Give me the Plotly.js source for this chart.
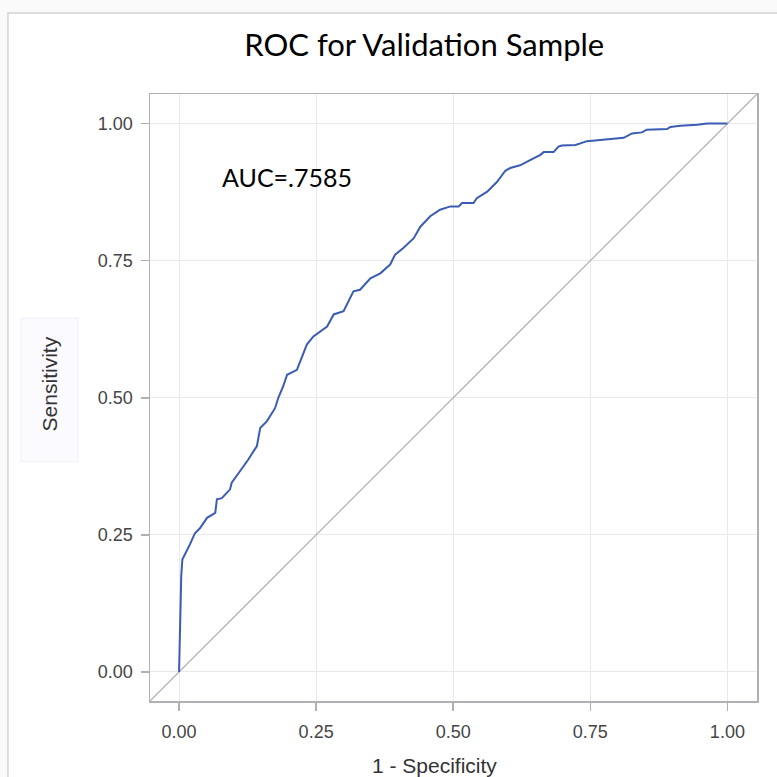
<!DOCTYPE html>
<html>
<head>
<meta charset="utf-8">
<script src="https://cdn.plot.ly/plotly-3.0.1.min.js"></script>
<style>
  html, body { margin: 0; padding: 0; background: #ffffff; }
  #chart { width: 777px; height: 777px; }
</style>
</head>
<body>
<div id="chart"></div>
<script>
// ROC curve (1 - Specificity vs Sensitivity)
const fpr = [0, 0.001, 0.002, 0.004, 0.006, 0.014, 0.020, 0.029, 0.038, 0.051,
  0.066, 0.069, 0.078, 0.093, 0.096, 0.111, 0.126, 0.142, 0.148, 0.160,
  0.175, 0.181, 0.190, 0.197, 0.215, 0.233, 0.245, 0.270, 0.282, 0.300,
  0.318, 0.330, 0.349, 0.367, 0.385, 0.394, 0.409, 0.428, 0.440, 0.458,
  0.476, 0.495, 0.510, 0.516, 0.537, 0.543, 0.562, 0.580, 0.589, 0.595,
  0.604, 0.622, 0.641, 0.659, 0.665, 0.683, 0.692, 0.698, 0.723, 0.738,
  0.744, 0.768, 0.793, 0.811, 0.826, 0.844, 0.853, 0.890, 0.896, 0.914,
  0.945, 0.963, 1.000];
const tpr = [0, 0.056, 0.129, 0.175, 0.205, 0.220, 0.233, 0.253, 0.262, 0.281,
  0.290, 0.315, 0.317, 0.333, 0.345, 0.366, 0.387, 0.412, 0.445, 0.457,
  0.481, 0.500, 0.521, 0.542, 0.551, 0.597, 0.612, 0.630, 0.652, 0.658,
  0.694, 0.697, 0.718, 0.727, 0.743, 0.761, 0.773, 0.791, 0.812, 0.831,
  0.843, 0.849, 0.849, 0.855, 0.855, 0.864, 0.876, 0.894, 0.906, 0.914,
  0.919, 0.924, 0.934, 0.943, 0.948, 0.948, 0.958, 0.960, 0.961, 0.967,
  0.968, 0.970, 0.972, 0.974, 0.982, 0.984, 0.989, 0.990, 0.994, 0.996,
  0.998, 1.000, 1.000];
const tickVals = [0, 0.25, 0.5, 0.75, 1];
const tickText = ["0.00", "0.25", "0.50", "0.75", "1.00"];
const axisRange = [-0.053, 1.054];
const aucText = "AUC=.7585";
const titleText = "ROC for Validation Sample";
const xTitle = "1 - Specificity";
const yTitle = "Sensitivity";

const tickFont = { family: "Liberation Sans, Arial, sans-serif", size: 18, color: "#454545" };
const axTitleFont = { family: "Liberation Sans, Arial, sans-serif", size: 21, color: "#333333" };

const axisCommon = {
  range: axisRange,
  tickmode: "array",
  tickvals: tickVals,
  ticktext: tickText,
  showgrid: true,
  gridcolor: "#e9e9e9",
  gridwidth: 1,
  zeroline: false,
  showline: true,
  mirror: true,
  linecolor: "#aeb2b6",
  linewidth: 1.5,
  ticks: "outside",
  ticklen: 8,
  tickcolor: "#aeb2b6",
  tickwidth: 1.5,
  tickfont: tickFont,
  fixedrange: true
};

const traces = [
  {
    x: axisRange,
    y: axisRange,
    mode: "lines",
    line: { color: "#b5b5b5", width: 1.3 },
    hoverinfo: "skip",
    showlegend: false
  },
  {
    x: fpr,
    y: tpr,
    mode: "lines",
    line: { color: "#3b5cb4", width: 2 },
    showlegend: false
  }
];

const layout = {
  width: 777,
  height: 777,
  margin: { l: 150, r: 20, t: 94, b: 76 },
  paper_bgcolor: "#fafafa",
  plot_bgcolor: "#ffffff",
  showlegend: false,
  title: {
    text: titleText,
    font: { family: "Lato, Open Sans, sans-serif", size: 31, color: "#000000" },
    xref: "container", yref: "container",
    x: 0.546, xanchor: "center",
    y: 0.942, yanchor: "middle"
  },
  xaxis: Object.assign({}, axisCommon, { ticklabelstandoff: 6 }),
  yaxis: Object.assign({}, axisCommon, { ticklabelstandoff: 4 }),
  shapes: [
    {
      type: "rect", xref: "paper", yref: "paper",
      x0: -0.234, x1: 1.2, y0: -0.3, y1: 1.1334,
      fillcolor: "#ffffff",
      line: { color: "#d3d3d3", width: 1.5 },
      layer: "below"
    },
    {
      type: "rect", xref: "paper", yref: "paper",
      x0: -0.2125, x1: -0.1186, y0: 0.394, y1: 0.631,
      fillcolor: "#fbfbff",
      line: { color: "#eef0fa", width: 1 },
      layer: "below"
    }
  ],
  annotations: [
    {
      text: aucText, xref: "x", yref: "y", x: 0.075, y: 0.903,
      xanchor: "left", yanchor: "middle", showarrow: false,
      font: { family: "Lato, Open Sans, sans-serif", size: 25, color: "#000000" }
    },
    {
      text: xTitle, xref: "paper", yref: "paper", x: 0.468, y: -0.107,
      xanchor: "center", yanchor: "middle", showarrow: false,
      font: axTitleFont
    },
    {
      text: yTitle, xref: "paper", yref: "paper", x: -0.165, y: 0.523,
      xanchor: "center", yanchor: "middle", showarrow: false, textangle: -90,
      font: axTitleFont
    }
  ]
};

Plotly.newPlot("chart", traces, layout, { displayModeBar: false, staticPlot: true });
</script>
</body>
</html>
